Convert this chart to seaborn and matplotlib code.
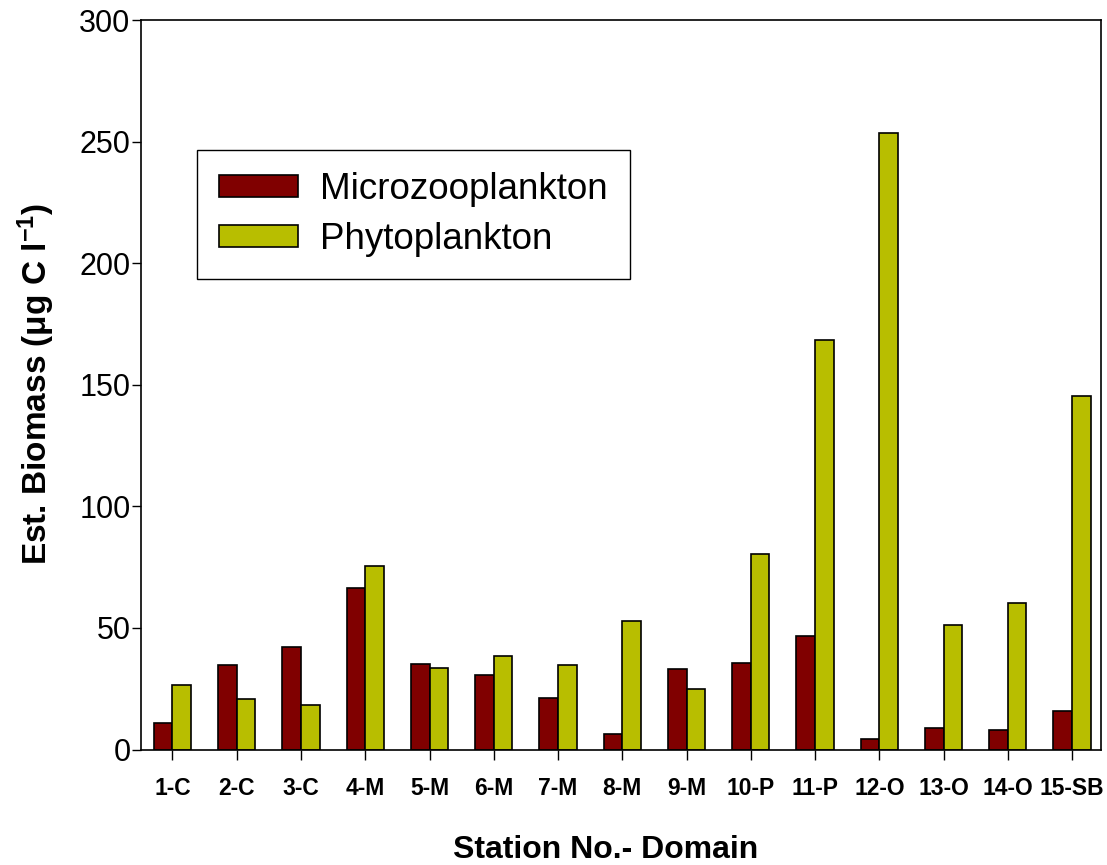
import matplotlib
matplotlib.use("Agg")
import matplotlib.pyplot as plt
import seaborn as sns
import pandas as pd

# Stations along the transect and the estimated carbon biomass of each group
stations = ["1-C", "2-C", "3-C", "4-M", "5-M", "6-M", "7-M", "8-M", "9-M",
            "10-P", "11-P", "12-O", "13-O", "14-O", "15-SB"]
microzooplankton = [11.0, 34.6, 42.0, 66.3, 35.2, 30.6, 21.3, 6.2, 33.1,
                    35.7, 46.7, 4.3, 9.0, 7.9, 15.7]
phytoplankton = [26.5, 20.6, 18.3, 75.5, 33.4, 38.3, 34.9, 53.0, 24.7,
                 80.5, 168.2, 253.4, 51.1, 60.2, 145.4]
groups = ["Microzooplankton", "Phytoplankton"]
y_ticks = [0, 50, 100, 150, 200, 250, 300]

df = pd.DataFrame({
    "station": stations * 2,
    "biomass": microzooplankton + phytoplankton,
    "group": [groups[0]] * len(stations) + [groups[1]] * len(stations),
})

sns.set_style("ticks")
plt.rcParams["font.family"] = ["Liberation Sans", "DejaVu Sans"]
plt.rcParams["text.color"] = "black"
plt.rcParams["axes.labelcolor"] = "black"
plt.rcParams["xtick.color"] = "black"
plt.rcParams["ytick.color"] = "black"
plt.rcParams["mathtext.fontset"] = "custom"
plt.rcParams["mathtext.rm"] = "Liberation Sans:bold"
plt.rcParams["mathtext.bf"] = "Liberation Sans:bold"
plt.rcParams["mathtext.it"] = "Liberation Sans:bold"

fig = plt.figure(figsize=(11.07, 8.65), dpi=100)
ax = fig.add_axes([141 / 1107, (865 - 749.5) / 865, 960 / 1107, 729.5 / 865])

palette = {"Microzooplankton": "#800000", "Phytoplankton": "#b8be00"}
sns.barplot(data=df, x="station", y="biomass", hue="group", order=stations,
            hue_order=groups, palette=palette, width=0.58, gap=0,
            edgecolor="black", linewidth=1.2, saturation=1, ax=ax)

ax.set_xlim(-0.49, 14.45)
ax.set_ylim(0, 300)
ax.set_yticks(y_ticks)
ax.set_yticklabels([str(v) for v in y_ticks], fontsize=22)
ax.set_xticks(range(len(stations)))
ax.set_xticklabels(stations, fontsize=16.5, fontweight="bold")

for side in ["top", "right", "left", "bottom"]:
    ax.spines[side].set_visible(True)
    ax.spines[side].set_color("black")
    ax.spines[side].set_linewidth(1.2)

ax.tick_params(axis="x", direction="out", length=7, width=1, pad=13, colors="black")
ax.tick_params(axis="y", direction="out", length=6.5, width=1, pad=1, colors="black")

ax.set_xlabel("Station No.- Domain", fontsize=23, fontweight="bold", color="black")
ax.set_ylabel(r"Est. Biomass (μg C l$^{-1}$)", fontsize=24, fontweight="bold", color="black")
ax.xaxis.set_label_coords(0.484, -0.117)
ax.yaxis.set_label_coords(-0.088, 0.501)

leg = ax.legend(loc="upper left", bbox_to_anchor=(0.0583, 0.822),
                borderaxespad=0, fontsize=26.5, frameon=True, fancybox=False,
                framealpha=1, edgecolor="black", handlelength=2.15,
                handleheight=0.55, handletextpad=0.6, borderpad=0.6,
                labelspacing=0.42, title=None)
leg.get_frame().set_linewidth(1.0)
for txt in leg.get_texts():
    txt.set_color("black")

fig.savefig("out.png", dpi=100)
